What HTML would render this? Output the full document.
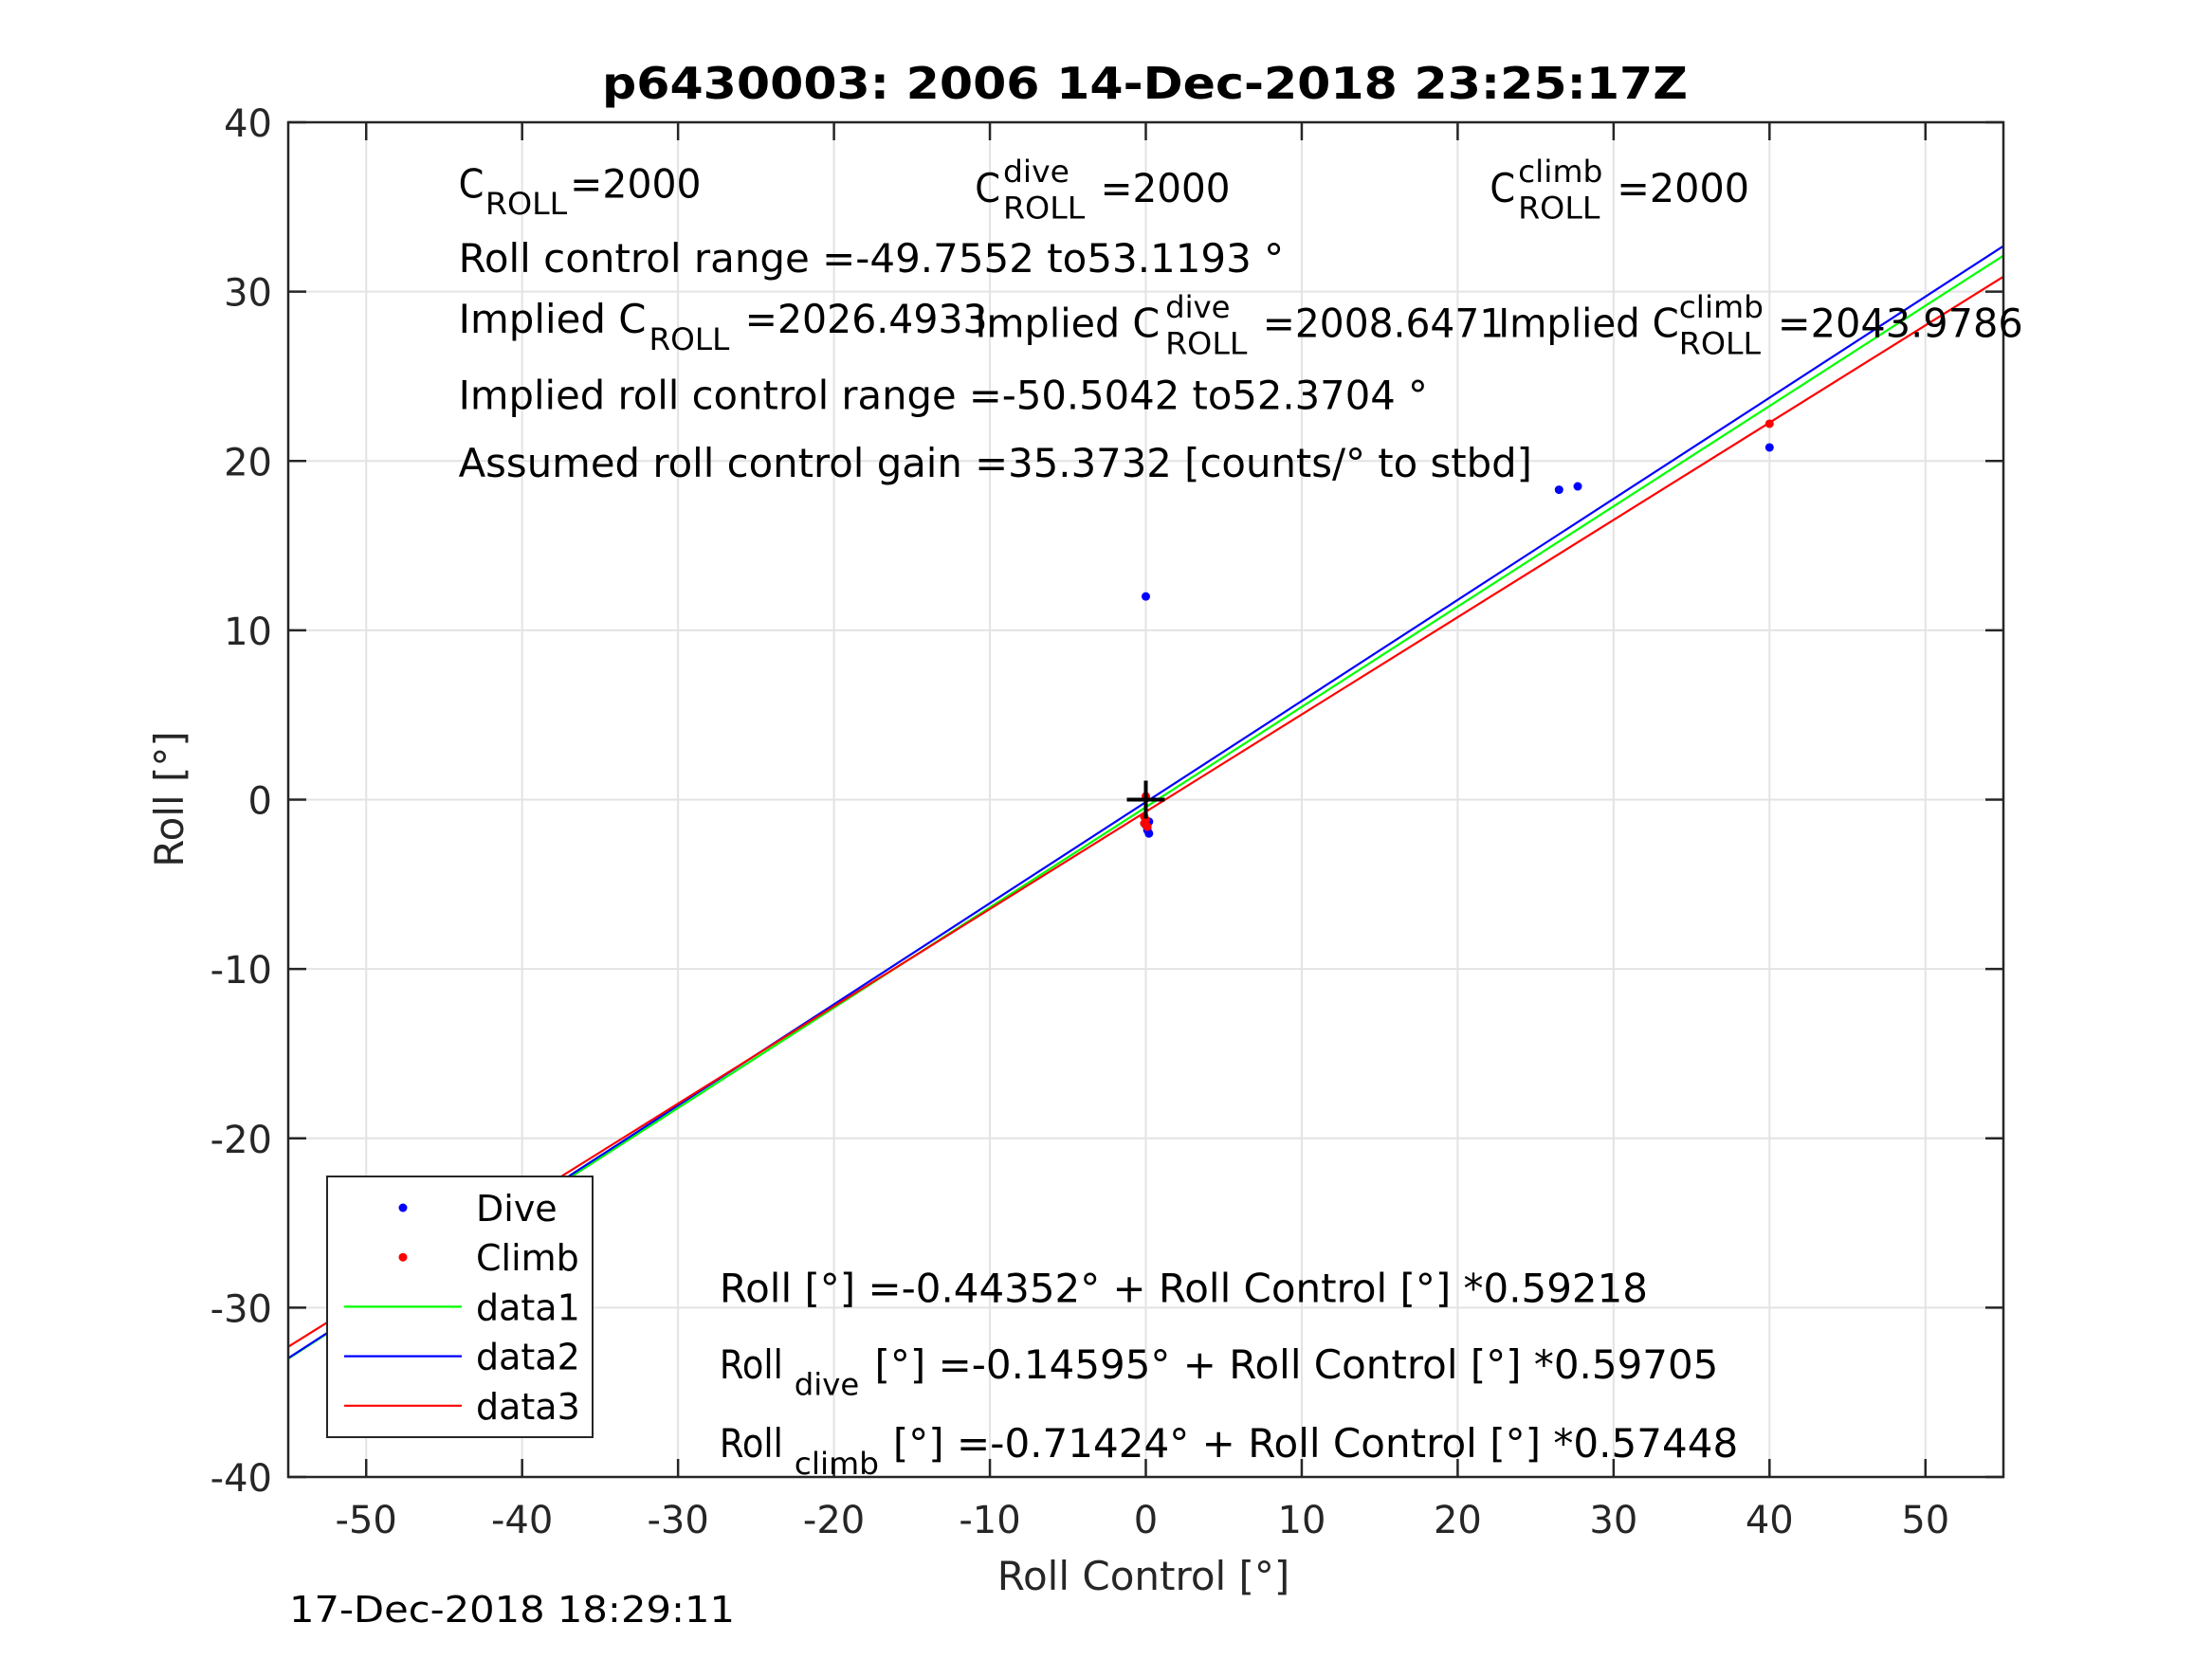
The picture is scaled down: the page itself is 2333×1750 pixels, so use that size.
<!DOCTYPE html>
<html><head><meta charset="utf-8"><style>
html,body{margin:0;padding:0;background:#fff;}
svg{display:block;font-family:"DejaVu Sans","Liberation Sans",sans-serif;}
</style></head><body>
<svg id="chart" width="2333" height="1750" viewBox="0 0 2333 1750" xmlns="http://www.w3.org/2000/svg"></svg>
<script>
const xTicks = [-50,-40,-30,-20,-10,0,10,20,30,40,50];
const yTicks = [-40,-30,-20,-10,0,10,20,30,40];
const diveX = [-40, 0, 26.5, 27.7, 40, 0.2, 0.2, 0.1, 0];
const diveY = [-23.8, 12, 18.3, 18.5, 20.8, -1.3, -2.0, -1.8, -1.5];
const climbX = [40, 0, -0.1, 0, 0.1, -0.1];
const climbY = [22.2, 0.2, -1.0, -1.2, -1.6, -1.4];
const fitNames = ['data1','data2','data3'];
const fitIntercepts = [-0.44352, -0.14595, -0.71424];
const fitSlopes = [0.59218, 0.59705, 0.57448];
const fitColors = ['#00ff00','#0000ff','#ff0000'];

const NS='http://www.w3.org/2000/svg';
const svg=document.getElementById('chart');
const L=304,R=2113,T=129,B=1558, X0=-55,X1=55,Y0=-40,Y1=40;
function sx(v){return L+(v-X0)/(X1-X0)*(R-L);}
function sy(v){return B-(v-Y0)/(Y1-Y0)*(B-T);}
function el(tag,attrs,parent){const e=document.createElementNS(NS,tag);for(const k in attrs)e.setAttribute(k,attrs[k]);(parent||svg).appendChild(e);return e;}
function txt(str,x,y,size,opts,parent){opts=opts||{};const a={x:x,y:y,'font-size':size,fill:opts.fill||'#000'};
 if(opts.anchor)a['text-anchor']=opts.anchor; if(opts.weight)a['font-weight']=opts.weight;
 if(opts.len){a.textLength=opts.len;a.lengthAdjust='spacingAndGlyphs';}
 if(opts.tr)a.transform=opts.tr;
 const t=el('text',a,parent);t.textContent=str;return t;}
const k=1.488;

// grid
const grid=el('g',{});


xTicks.forEach(v=>{el('line',{x1:sx(v),x2:sx(v),y1:T,y2:B,stroke:'#e3e3e3','stroke-width':2},grid);});
yTicks.forEach(v=>{el('line',{x1:L,x2:R,y1:sy(v),y2:sy(v),stroke:'#e3e3e3','stroke-width':2},grid);});

// fit lines
const clip=el('clipPath',{id:'pc'});el('rect',{x:L,y:T,width:R-L,height:B-T},clip);
const lines=el('g',{'clip-path':'url(#pc)'});
fitNames.forEach((n,i)=>{
 const ln=el('line',{x1:sx(X0),y1:sy(fitIntercepts[i]+fitSlopes[i]*X0),x2:sx(X1),y2:sy(fitIntercepts[i]+fitSlopes[i]*X1),stroke:fitColors[i],'stroke-width':2.2},lines);
 
 
});
// points
diveX.forEach((v,i)=>{const c=el('circle',{cx:sx(v),cy:sy(diveY[i]),r:4.5,fill:'#0000ff'});
 
 });
climbX.forEach((v,i)=>{const c=el('circle',{cx:sx(v),cy:sy(climbY[i]),r:4.5,fill:'#ff0000'});
 
 });
// origin cross
const cr=el('g',{stroke:'#000','stroke-width':4});


el('line',{x1:sx(0)-20,x2:sx(0)+20,y1:sy(0),y2:sy(0)},cr);
el('line',{x1:sx(0),x2:sx(0),y1:sy(0)-20,y2:sy(0)+20},cr);

// axes box & ticks
const ax=el('g',{stroke:'#262626','stroke-width':2.5,fill:'none'});


el('rect',{x:L,y:T,width:R-L,height:B-T},ax);
xTicks.forEach(v=>{el('line',{x1:sx(v),x2:sx(v),y1:B,y2:B-19},ax);el('line',{x1:sx(v),x2:sx(v),y1:T,y2:T+19},ax);
 const t=txt(String(v),sx(v),1617,40,{anchor:'middle',fill:'#262626'});
 
 });
yTicks.forEach(v=>{el('line',{x1:L,x2:L+19,y1:sy(v),y2:sy(v)},ax);el('line',{x1:R,x2:R-19,y1:sy(v),y2:sy(v)},ax);
 const t=txt(String(v),287,sy(v)+15,40,{anchor:'end',fill:'#262626'});
 
 });

// labels
let t;
t=txt('p6430003:  2006 14-Dec-2018 23:25:17Z',635,104,46,{weight:'bold',len:1145});

t=txt('Roll Control [°]',1206,1677,42,{anchor:'middle',fill:'#262626'});

t=txt('Roll [°]',0,0,42,{anchor:'middle',fill:'#262626',tr:'translate(193,843) rotate(-90)'});

t=txt('17-Dec-2018 18:29:11',305,1711,38,{len:470});


// annotations (display coords * k)
function ann(str,dx,dy,size,dw){return txt(str,dx*k,dy*k,size,{len:dw*k});}
const an=[
 ['C',325,140,42,18],['ROLL',344,152,32,58],['=2000',404,140,42,93],
 ['C',691,143,42,18],['dive',711,129,32,47],['ROLL',711,155,32,58],[' =2000',780,143,42,92],
 ['C',1056,143,42,18],['climb',1076,129,32,60],['ROLL',1076,155,32,58],['=2000',1146,143,42,94],
 ['Roll control range =-49.7552 to53.1193 °',325,193,42,585],
 ['Implied C',325,236,42,133],['ROLL',460,248,32,57],['=2026.4933',528,236,42,172],
 ['Implied C',691,239,42,131],['dive',826,225,32,46],['ROLL',826,251,32,58],['=2008.6471',895,239,42,171],
 ['Implied C',1062,239,42,128],['climb',1190,225,32,60],['ROLL',1190,251,32,58],['=2043.9786',1260,239,42,174],
 ['Implied roll control range =-50.5042 to52.3704 °',325,290,42,687],
 ['Assumed roll control gain =35.3732 [counts/° to stbd]',325,338,42,761],
 ['Roll [°] =-0.44352° + Roll Control [°] *0.59218',510,923,42,658],
 ['Roll',510,977,42,45],['dive',563,989,32,46],['[°] =-0.14595° + Roll Control [°] *0.59705',620,977,42,598],
 ['Roll',510,1033,42,45],['climb',563,1045,32,60],['[°] =-0.71424° + Roll Control [°] *0.57448',633,1033,42,599]
];
an.forEach(a=>{const e=ann(a[0],a[1],a[2],a[3],a[4]);
 
 });

// legend
const lg=el('g',{});


el('rect',{x:345,y:1241,width:280,height:275,fill:'#fff',stroke:'#262626','stroke-width':2},lg);
const legNames=['Dive','Climb'].concat(fitNames);
const legColors=['#0000ff','#ff0000'].concat(fitColors);
legNames.forEach((n,i)=>{
 const g=el('g',{},lg);
 
 
 const y=1274+i*52.2;
 if(i<2) el('circle',{cx:425,cy:y,r:4.5,fill:legColors[i]},g);
 else el('line',{x1:363,x2:487,y1:y,y2:y,stroke:legColors[i],'stroke-width':2.2},g);
 txt(n,502,y+14,38,{},g);
});
</script>
</body></html>
